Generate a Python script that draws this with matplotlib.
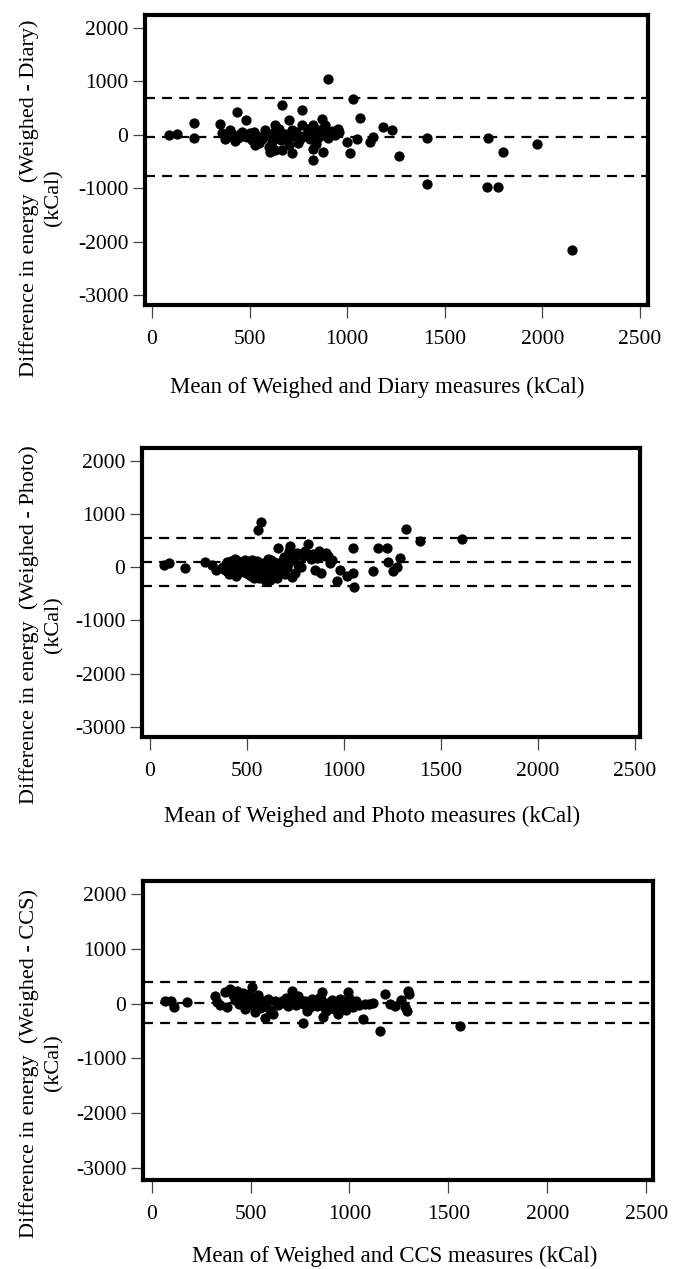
import matplotlib
matplotlib.use("Agg")
import matplotlib.pyplot as plt

# ---------------- data ----------------
diary_mean = [89, 130, 217, 217, 348, 374, 400, 425, 434, 480, 451, 485, 528, 562, 579,
              604, 613, 630, 639, 668, 664, 690, 702, 716, 716, 767, 770, 758, 792, 826,
              826, 826, 844, 869, 878, 886, 900, 912, 951, 997, 1014, 1031, 1048, 1066,
              1117, 1134, 1185, 1228, 1267, 1407, 1407, 1720, 1715, 1771, 1800, 1974, 2150,
              360, 390, 410, 440, 460, 470, 500, 510, 520, 540, 550, 570, 590, 600, 620,
              630, 650, 660, 680, 700, 720, 740, 750, 780, 800, 810, 830, 840, 850, 860,
              870, 890, 900, 920, 935, 960]
diary_diff = [-11, 20, 220, -62, 196, -74, 83, -124, 427, 271, 20, -43, -200, -74, 83,
              -325, -137, 177, -11, 552, -293, -43, 283, -343, 83, 471, 177, -74, 20, 177,
              -262, -481, -74, 302, -325, 177, 1041, 20, 114, -137, -337, 678, -73, 321,
              -137, -43, 145, 83, -406, -62, -920, -62, -970, -970, -325, -167, -2160,
              30, -20, 10, -60, 60, -30, 30, -100, 50, -20, -150, -40, 20, -230, 40,
              -280, 100, -100, 20, -200, -30, 60, -150, -20, 110, -80, 40, -180, 60, -30,
              100, 60, -60, 80, 0, 60]
diary_lines = [685, -35, -765]

photo_mean = [70, 100, 180, 285, 320, 340, 370, 390, 400, 410, 420, 430, 440, 450, 460,
              470, 480, 490, 500, 510, 520, 530, 540, 550, 558, 572, 560, 570, 580, 590,
              600, 610, 620, 630, 640, 650, 660, 670, 680, 690, 700, 710, 722, 722, 730,
              750, 764, 780, 800, 816, 830, 851, 870, 890, 900, 910, 928, 962, 979, 1014,
              1048, 1048, 1053, 1148, 1177, 1220, 1229, 1254, 1271, 1289, 1320, 1392, 1607,
              375, 385, 395, 405, 415, 425, 435, 445, 455, 465, 475, 485, 495, 505, 515,
              525, 535, 545, 555, 565, 575, 585, 595, 605, 615, 625, 635, 645, 655, 665,
              675, 685, 695, 705, 715, 740, 760, 790, 840, 860, 880, 920, 940]
photo_diff = [40, 75, -10, 100, 40, -50, -20, 60, -90, 20, 110, -60, 150, -120, 0,
              80, -30, 130, -100, 30, -160, 60, -40, 120, 690, 850, -200, 10, -110, 70,
              -60, 150, -240, -10, 100, -150, 360, 20, -80, 200, -20, 80, 390, 240, -180,
              -110, 40, 10, 300, 430, 150, -50, 310, 250, 220, 270, 70, -260, -50, -170,
              -100, 360, -380, -80, 370, 370, 90, -80, 0, 170, 720, 486, 537,
              10, -60, 100, -130, 40, -20, 70, -170, 120, -50, 30, -90, 60, -130, 0,
              140, -200, 20, -80, 80, -160, 0, -240, 50, -120, 130, -60, 20, -200, 80,
              -40, 140, -120, 0, 300, 150, 260, 210, 240, 170, -110, 210, 130]
photo_lines = [545, 95, -345]

ccs_mean = [68, 99, 116, 178, 321, 330, 345, 371, 381, 396, 412, 420, 430, 440, 450,
            460, 470, 480, 490, 500, 506, 515, 523, 530, 540, 550, 556, 565, 573, 580,
            590, 600, 615, 625, 640, 657, 670, 680, 690, 700, 708, 720, 730, 740, 750,
            766, 766, 775, 783, 790, 800, 810, 825, 835, 845, 858, 859, 865, 870, 880,
            890, 900, 910, 920, 930, 940, 950, 960, 970, 980, 994, 1000, 1010, 1020, 1035,
            1050, 1070, 1080, 1100, 1120, 1154, 1179, 1204, 1230, 1260, 1280, 1290, 1297,
            1300, 1558]
ccs_diff = [42, 55, -68, 24, 148, 24, -20, 209, -60, 271, 150, 60, 230, -10, 120,
            200, -100, 60, 170, -30, 301, 100, -160, 20, 150, -80, -68, 50, -253, -20,
            80, -120, -190, 40, -20, 55, 10, 100, -40, 60, 240, 20, -20, 148, 60,
            -10, -345, 40, -129, 20, -60, 80, 50, -40, 110, 90, 209, -250, -60, -140,
            20, -20, 60, -100, 10, -180, 80, -40, 40, -120, 209, 100, 20, -60, 40,
            -20, -283, 0, -10, 10, -498, 179, -10, -50, 60, -60, -130, 240,
            180, -406]
ccs_lines = [390, 15, -360]

x_ticks = [0, 500, 1000, 1500, 2000, 2500]
y_ticks = [2000, 1000, 0, -1000, -2000, -3000]

ylabels = ["Difference in energy  (Weighed - Diary)\n(kCal)",
           "Difference in energy  (Weighed - Photo)\n(kCal)",
           "Difference in energy  (Weighed - CCS)\n(kCal)"]
xlabels = ["Mean of Weighed and Diary measures (kCal)",
           "Mean of Weighed and Photo measures (kCal)",
           "Mean of Weighed and CCS measures (kCal)"]

# ---------------- layout (pixel based) ----------------
W, H = 686, 1269
plt.rcParams['font.family'] = ['Liberation Serif', 'DejaVu Serif']
fig = plt.figure(figsize=(W / 100, H / 100), dpi=100)

panels = [
    dict(box=(145, 648, 15, 305), xlim=(-36, 2541), ylim=(-3190, 2245),
         ylab_y=198, xlab=(377, 387), data=(diary_mean, diary_diff, diary_lines)),
    dict(box=(142, 640, 448, 737), xlim=(-41, 2526), ylim=(-3190, 2240),
         ylab_y=625, xlab=(372, 816), data=(photo_mean, photo_diff, photo_lines)),
    dict(box=(143, 653, 881, 1180), xlim=(-43, 2533), ylim=(-3220, 2240),
         ylab_y=1063, xlab=(395, 1256), data=(ccs_mean, ccs_diff, ccs_lines)),
]

for i, p in enumerate(panels):
    l, r, t, b = p['box']
    ax = fig.add_axes([l / W, 1 - b / H, (r - l) / W, (b - t) / H])
    xs, ys, lines = p['data']
    for v in lines:
        ax.axhline(v, color='black', lw=1.6, dashes=(4.5, 3.2), zorder=1)
    ax.plot(xs, ys, 'o', color='black', markersize=7.4, markeredgewidth=0, zorder=2)
    ax.set_xlim(*p['xlim'])
    ax.set_ylim(*p['ylim'])
    ax.set_xticks(x_ticks)
    ax.set_yticks(y_ticks)
    ax.set_xticklabels([str(v) for v in x_ticks])
    ax.set_yticklabels([str(v) for v in y_ticks])
    for s in ax.spines.values():
        s.set_linewidth(3.0)
        s.set_color('black')
    ax.tick_params(axis='both', direction='out', length=9, width=0.9,
                   color='#444444', labelsize=15.5, labelcolor='black')
    ax.tick_params(axis='x', pad=9)
    ax.tick_params(axis='y', pad=3)
    fig.text(41 / W, 1 - p['ylab_y'] / H, ylabels[i], rotation=90,
             ha='center', va='center', multialignment='center', fontsize=16,
             linespacing=1.35)
    fig.text(p['xlab'][0] / W, 1 - p['xlab'][1] / H, xlabels[i],
             ha='center', va='center', fontsize=16.5)

fig.savefig('out.png', dpi=100, facecolor='white')
